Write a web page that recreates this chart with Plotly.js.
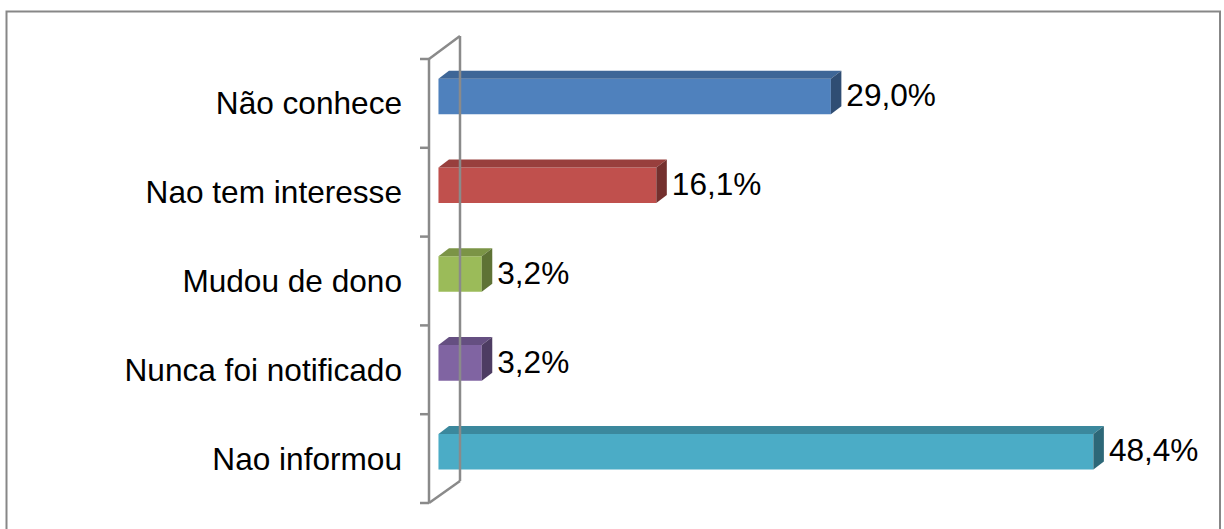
<!DOCTYPE html>
<html>
<head>
<meta charset="utf-8">
<script src="https://cdn.plot.ly/plotly-3.0.1.min.js"></script>
<style>html,body{margin:0;padding:0;background:#fff;}#chart{width:1224px;height:529px;}</style>
</head>
<body>
<div id="chart"></div>
<script>
// ---- data ----
const categories = ["Não conhece", "Nao tem interesse", "Mudou de dono", "Nunca foi notificado", "Nao informou"];
const values = [29.0, 16.1, 3.2, 3.2, 48.4];
const frontColors = ["#4F81BD", "#C0504D", "#9BBB59", "#8064A2", "#4BACC6"];
const topColors   = ["#3E6697", "#983F3D", "#7B9446", "#654F81", "#3B889D"];
const sideColors  = ["#2F4D73", "#74302E", "#5E7235", "#4D3C62", "#2D6878"];

// ---- layout geometry ----
const W = 1224, H = 529;
const mL = 429, mR = 24, mT = 59, mB = 26;
const plotW = W - mL - mR, plotH = H - mT - mB;
const xRange = [-0.70, 56.28];
const pxPerX = plotW / (xRange[1] - xRange[0]);
const pxPerY = plotH / categories.length;
const depthX = 10.5 / pxPerX;     // 3D depth offset (data units)
const depthY = 8 / pxPerY;
const barW = 0.40;
const centerShift = 0.078;
const labelGap = 5 / pxPerX;
const fontFam = '"Liberation Sans", Arial, sans-serif';

const idx = categories.map((c, i) => i);
const yc = idx.map(i => i - centerShift);

const traces = [];
// front faces
traces.push({
  type: 'bar', orientation: 'h',
  x: values, y: yc, width: barW,
  marker: {color: frontColors, line: {width: 0}},
  hoverinfo: 'skip', showlegend: false
});
// top & side faces
values.forEach((v, i) => {
  const yT = yc[i] - barW / 2, yB = yc[i] + barW / 2;
  traces.push({
    type: 'scatter', mode: 'lines', fill: 'toself',
    x: [0, v, v + depthX, depthX, 0],
    y: [yT, yT, yT - depthY, yT - depthY, yT],
    fillcolor: topColors[i], line: {width: 0, color: topColors[i]},
    hoverinfo: 'skip', showlegend: false
  });
  traces.push({
    type: 'scatter', mode: 'lines', fill: 'toself',
    x: [v, v + depthX, v + depthX, v, v],
    y: [yT, yT - depthY, yB - depthY, yB, yT],
    fillcolor: sideColors[i], line: {width: 0, color: sideColors[i]},
    hoverinfo: 'skip', showlegend: false
  });
});
// value labels
traces.push({
  type: 'scatter', mode: 'text',
  x: values.map(v => v + depthX + labelGap), y: yc.map(y => y + 0.02),
  text: values.map(v => v.toFixed(1).replace('.', ',') + '%'),
  textposition: 'middle right',
  textfont: {family: fontFam, size: 31.6, color: '#000'},
  hoverinfo: 'skip', showlegend: false, cliponaxis: false
});

// wall lines / ticks / border in paper coordinates
const px2x = p => (p - mL) / plotW;
const px2y = p => (H - mB - p) / plotH;
const gray = '#8A8A8A';
const shapes = [];
const line = (x0, y0, x1, y1, w) => shapes.push({
  type: 'line', xref: 'paper', yref: 'paper',
  x0: px2x(x0), y0: px2y(y0), x1: px2x(x1), y1: px2y(y1),
  line: {color: gray, width: w || 2.5}
});
line(429, 59, 429, 503);
line(460, 36, 460, 481);
line(429, 59, 460, 36);
line(429, 503, 460, 481);
for (let k = 0; k <= categories.length; k++) {
  const py = mT + k * pxPerY;
  line(420, py, 429, py);
}
shapes.push({
  type: 'rect', xref: 'paper', yref: 'paper', layer: 'below',
  x0: px2x(6.5), x1: px2x(1220), y0: px2y(11.5), y1: px2y(531),
  line: {color: '#878787', width: 2}, fillcolor: 'rgba(0,0,0,0)'
});

const layout = {
  width: W, height: H,
  margin: {l: mL, r: mR, t: mT, b: mB, pad: 0},
  paper_bgcolor: '#fff', plot_bgcolor: 'rgba(0,0,0,0)',
  showlegend: false,
  xaxis: {range: xRange, visible: false, fixedrange: true},
  yaxis: {
    range: [categories.length - 0.5, -0.5],
    tickvals: idx, ticktext: categories,
    showline: false, showgrid: false, zeroline: false, ticks: '',
    ticklabelstandoff: 26,
    tickfont: {family: fontFam, size: 31.6, color: '#000'},
    fixedrange: true
  },
  shapes: shapes
};

Plotly.newPlot('chart', traces, layout, {displayModeBar: false, staticPlot: true});
</script>
</body>
</html>
